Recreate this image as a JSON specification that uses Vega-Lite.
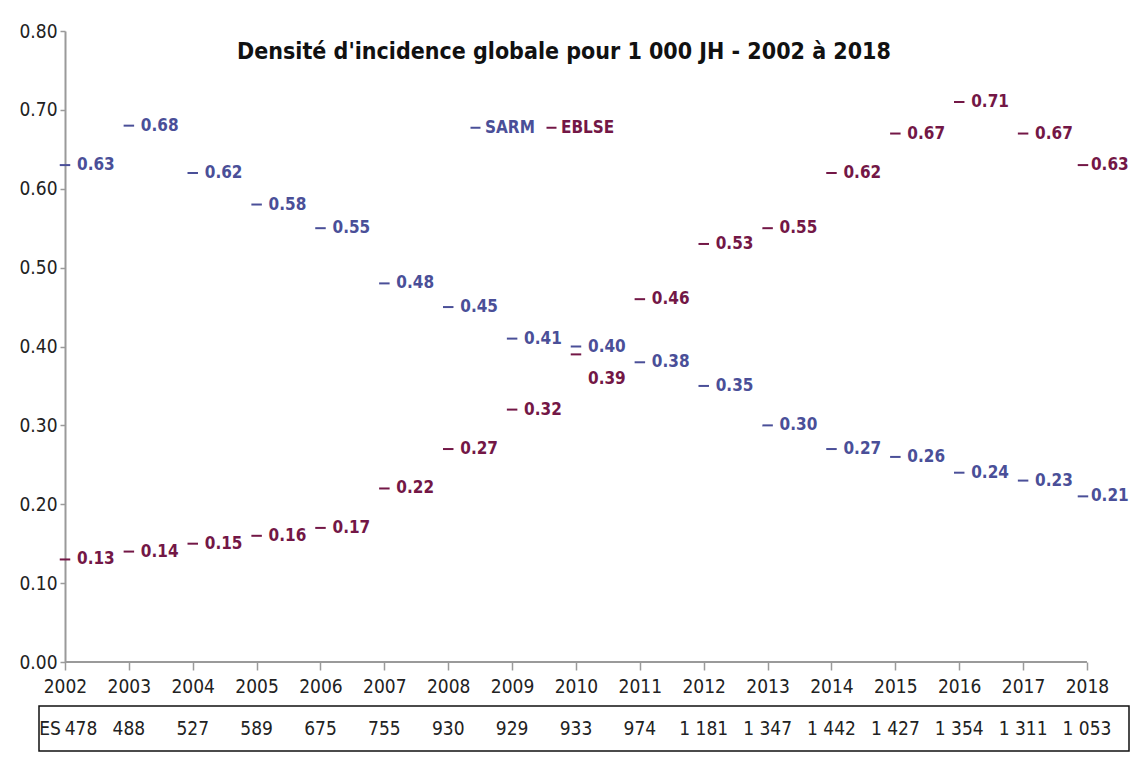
{
  "$schema": "https://vega.github.io/schema/vega-lite/v6.json",
  "background": "white",
  "padding": {"left": 18, "top": 22, "right": 2, "bottom": 4},
  "spacing": 6,
  "datasets": {
    "incidence": [
      {"year": 2002, "serie": "SARM", "value": 0.63},
      {"year": 2003, "serie": "SARM", "value": 0.68},
      {"year": 2004, "serie": "SARM", "value": 0.62},
      {"year": 2005, "serie": "SARM", "value": 0.58},
      {"year": 2006, "serie": "SARM", "value": 0.55},
      {"year": 2007, "serie": "SARM", "value": 0.48},
      {"year": 2008, "serie": "SARM", "value": 0.45},
      {"year": 2009, "serie": "SARM", "value": 0.41},
      {"year": 2010, "serie": "SARM", "value": 0.40},
      {"year": 2011, "serie": "SARM", "value": 0.38},
      {"year": 2012, "serie": "SARM", "value": 0.35},
      {"year": 2013, "serie": "SARM", "value": 0.30},
      {"year": 2014, "serie": "SARM", "value": 0.27},
      {"year": 2015, "serie": "SARM", "value": 0.26},
      {"year": 2016, "serie": "SARM", "value": 0.24},
      {"year": 2017, "serie": "SARM", "value": 0.23},
      {"year": 2018, "serie": "SARM", "value": 0.21},
      {"year": 2002, "serie": "EBLSE", "value": 0.13},
      {"year": 2003, "serie": "EBLSE", "value": 0.14},
      {"year": 2004, "serie": "EBLSE", "value": 0.15},
      {"year": 2005, "serie": "EBLSE", "value": 0.16},
      {"year": 2006, "serie": "EBLSE", "value": 0.17},
      {"year": 2007, "serie": "EBLSE", "value": 0.22},
      {"year": 2008, "serie": "EBLSE", "value": 0.27},
      {"year": 2009, "serie": "EBLSE", "value": 0.32},
      {"year": 2010, "serie": "EBLSE", "value": 0.39},
      {"year": 2011, "serie": "EBLSE", "value": 0.46},
      {"year": 2012, "serie": "EBLSE", "value": 0.53},
      {"year": 2013, "serie": "EBLSE", "value": 0.55},
      {"year": 2014, "serie": "EBLSE", "value": 0.62},
      {"year": 2015, "serie": "EBLSE", "value": 0.67},
      {"year": 2016, "serie": "EBLSE", "value": 0.71},
      {"year": 2017, "serie": "EBLSE", "value": 0.67},
      {"year": 2018, "serie": "EBLSE", "value": 0.63}
    ],
    "es": [
      {"year": 2002, "es": 478},
      {"year": 2003, "es": 488},
      {"year": 2004, "es": 527},
      {"year": 2005, "es": 589},
      {"year": 2006, "es": 675},
      {"year": 2007, "es": 755},
      {"year": 2008, "es": 930},
      {"year": 2009, "es": 929},
      {"year": 2010, "es": 933},
      {"year": 2011, "es": 974},
      {"year": 2012, "es": 1181},
      {"year": 2013, "es": 1347},
      {"year": 2014, "es": 1442},
      {"year": 2015, "es": 1427},
      {"year": 2016, "es": 1354},
      {"year": 2017, "es": 1311},
      {"year": 2018, "es": 1053}
    ]
  },
  "vconcat": [
    {
      "width": 1090,
      "height": 631,
      "title": {
        "text": "Densité d'incidence globale pour 1 000 JH - 2002 à 2018",
        "fontSize": 23,
        "fontWeight": "bold",
        "color": "#111",
        "frame": "group",
        "anchor": "middle",
        "dx": -20,
        "offset": -42
      },
      "data": {"name": "incidence"},
      "encoding": {
        "x": {
          "field": "year", "type": "quantitative",
          "scale": {"domain": [2001.593, 2018.658], "nice": false, "zero": false},
          "axis": {
            "title": null, "format": "d",
            "values": [2002,2003,2004,2005,2006,2007,2008,2009,2010,2011,2012,2013,2014,2015,2016,2017,2018],
            "tickSize": 8, "labelPadding": 7, "grid": false, "domain": false,
            "labelFlush": false, "labelOverlap": false,
            "minExtent": 37, "maxExtent": 37
          }
        },
        "y": {
          "field": "value", "type": "quantitative",
          "scale": {"domain": [0, 0.8], "nice": false},
          "axis": {
            "title": null, "format": ".2f", "offset": -26,
            "values": [0, 0.1, 0.2, 0.3, 0.4, 0.5, 0.6, 0.7, 0.8],
            "tickSize": 5, "labelPadding": 3, "grid": false,
            "labelFlush": false
          }
        }
      },
      "layer": [
        {
          "transform": [{"filter": "datum.year === 2002 && datum.serie === 'SARM'"}],
          "mark": {"type": "rule", "color": "#9a9a9a", "strokeWidth": 2},
          "encoding": {
            "x": {"datum": 2002},
            "x2": {"datum": 2018},
            "y": {"datum": 0}
          }
        },
        {
          "transform": [{"filter": "datum.year !== 2018"}],
          "mark": {"type": "point", "shape": "stroke", "filled": false, "strokeWidth": 2, "size": 110, "opacity": 1},
          "encoding": {
            "color": {
              "field": "serie", "type": "nominal",
              "scale": {"domain": ["SARM", "EBLSE"], "range": ["#4a4f98", "#731746"]},
              "legend": {
                "title": null,
                "orient": "none",
                "legendX": 428,
                "legendY": 88,
                "direction": "horizontal",
                "symbolType": "stroke",
                "symbolSize": 100,
                "symbolStrokeWidth": 2,
                "labelFontSize": 17,
                "labelFontWeight": "bold",
                "labelOffset": 1,
                "columnPadding": 7,
                "labelColor": {"expr": "datum.value === 'SARM' ? '#4a4f98' : '#731746'"}
              }
            }
          }
        },
        {
          "transform": [{"filter": "datum.year === 2018"}],
          "mark": {"type": "point", "shape": "stroke", "filled": false, "strokeWidth": 2, "size": 110, "opacity": 1, "xOffset": -4},
          "encoding": {
            "color": {"field": "serie", "type": "nominal", "legend": null}
          }
        },
        {
          "transform": [{"filter": "!(datum.year === 2010 && datum.serie === 'EBLSE') && datum.year !== 2018"}],
          "mark": {"type": "text", "align": "left", "baseline": "middle", "dx": 12, "fontSize": 17, "fontWeight": "bold"},
          "encoding": {
            "text": {"field": "value", "type": "quantitative", "format": ".2f"},
            "color": {"field": "serie", "type": "nominal", "legend": null}
          }
        },
        {
          "transform": [{"filter": "datum.year === 2018"}],
          "mark": {"type": "text", "align": "left", "baseline": "middle", "dx": 4, "fontSize": 17, "fontWeight": "bold"},
          "encoding": {
            "text": {"field": "value", "type": "quantitative", "format": ".2f"},
            "color": {"field": "serie", "type": "nominal", "legend": null}
          }
        },
        {
          "transform": [{"filter": "datum.year === 2010 && datum.serie === 'EBLSE'"}],
          "mark": {"type": "text", "align": "left", "baseline": "middle", "dx": 12, "dy": 25, "fontSize": 17, "fontWeight": "bold"},
          "encoding": {
            "text": {"field": "value", "type": "quantitative", "format": ".2f"},
            "color": {"field": "serie", "type": "nominal", "legend": null}
          }
        }
      ]
    },
    {
      "width": 1090,
      "height": 45,
      "view": {"stroke": "#111", "strokeWidth": 1.5},
      "data": {"name": "es"},
      "encoding": {
        "x": {
          "field": "year", "type": "quantitative",
          "scale": {"domain": [2001.593, 2018.658], "nice": false, "zero": false},
          "axis": null
        }
      },
      "layer": [
        {
          "transform": [{"filter": "datum.year !== 2002"}],
          "mark": {"type": "text", "align": "center", "baseline": "middle", "fontSize": 19, "color": "#222"},
          "encoding": {"text": {"field": "es", "type": "quantitative", "format": ",d"}}
        },
        {
          "transform": [{"filter": "datum.year === 2002"}],
          "mark": {"type": "text", "align": "center", "baseline": "middle", "fontSize": 19, "color": "#222", "dx": 16},
          "encoding": {"text": {"field": "es", "type": "quantitative", "format": ",d"}}
        },
        {
          "transform": [{"filter": "datum.year === 2002"}],
          "mark": {"type": "text", "align": "center", "baseline": "middle", "fontSize": 19, "color": "#222", "dx": -15, "text": "ES"}
        }
      ]
    }
  ],
  "resolve": {"scale": {"color": "independent", "x": "independent"}, "legend": {"color": "independent"}},
  "config": {
    "font": "'DejaVu Sans Condensed', 'Liberation Sans Narrow', Roboto, sans-serif",
    "locale": {"number": {"decimal": ".", "thousands": " ", "grouping": [3], "currency": ["", ""]}},
    "view": {"stroke": null},
    "axis": {
      "labelFontSize": 19,
      "labelColor": "#222",
      "domainColor": "#9a9a9a",
      "domainWidth": 2,
      "tickColor": "#9a9a9a",
      "tickWidth": 1.5
    }
  }
}
